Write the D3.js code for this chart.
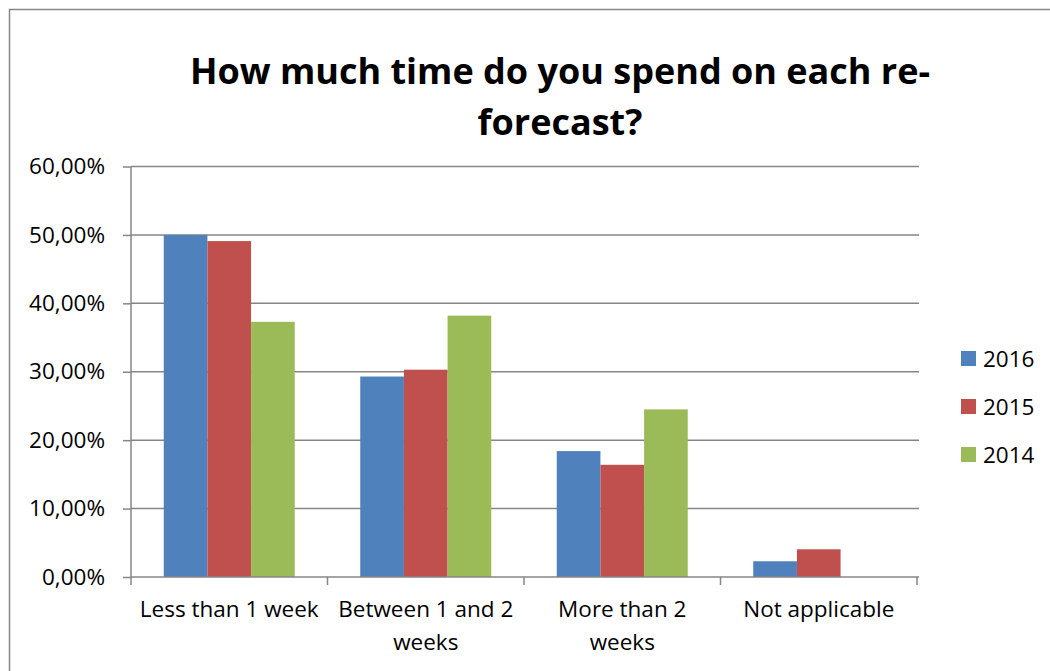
<!DOCTYPE html>
<html>
<meta charset="utf-8">
<style>
    body { margin: 0; background: #fff; }
    svg, svg text { font-family: "Open Sans", "Noto Sans", sans-serif; }
    .frame { fill: none; stroke: #868686; stroke-width: 1.5px; }
    .grid line { stroke: #868686; stroke-width: 1.5px; }
    .axis path, .axis line { stroke: #868686; stroke-width: 1.5px; }
    .axis text { font-size: 22.5px; fill: #000; }
    .title { font-size: 36px; font-weight: bold; fill: #000; }
    .legend text { font-size: 22.5px; fill: #000; }
</style>

<body>
    <script src="https://d3js.org/d3.v7.min.js"></script>
    <script>

        var width = 1050,
            height = 671;

        var categories = ["Less than 1 week", "Between 1 and 2 weeks", "More than 2 weeks", "Not applicable"];
        var years = ["2016", "2015", "2014"];
        var values2016 = [0.500, 0.293, 0.184, 0.023];
        var values2015 = [0.491, 0.303, 0.164, 0.0405];
        var values2014 = [0.373, 0.382, 0.245, null];
        var yTicks = [0, 0.1, 0.2, 0.3, 0.4, 0.5, 0.6];
        var titleLines = ["How much time do you spend on each re-", "forecast?"];
        var colors = ["#4f81bd", "#c0504d", "#9bbb59"];

        var seriesValues = [values2016, values2015, values2014];

        var margin = { left: 131, right: 133, top: 166.5, bottom: 94 };

        var x = d3.scaleBand()
            .domain(categories)
            .range([margin.left, width - margin.right])
            .paddingInner(0)
            .paddingOuter(0);

        var xInner = d3.scaleBand()
            .domain(years)
            .range([0, x.bandwidth()])
            .paddingOuter(0.75)
            .paddingInner(0);

        var y = d3.scaleLinear()
            .domain([0, 0.6])
            .range([height - margin.bottom, margin.top]);

        var locale = d3.formatLocale({ decimal: ",", thousands: ".", grouping: [3], currency: ["", "€"] });
        var pct = locale.format(".2%");

        var svg = d3.select("body").append("svg")
            .attr("width", width)
            .attr("height", height);

        svg.append("rect")
            .attr("class", "frame")
            .attr("x", 9.5)
            .attr("y", 9.5)
            .attr("width", width + 20)
            .attr("height", height + 20);

        // title
        svg.append("text")
            .attr("class", "title")
            .attr("text-anchor", "middle")
            .selectAll("tspan")
            .data(titleLines)
            .enter().append("tspan")
            .attr("x", 560)
            .attr("y", function (d, i) { return 84 + i * 51; })
            .text(function (d) { return d; });

        // gridlines
        svg.append("g")
            .attr("class", "grid")
            .selectAll("line")
            .data(yTicks.slice(1))
            .enter().append("line")
            .attr("x1", margin.left)
            .attr("x2", width - margin.right + 2)
            .attr("y1", function (d) { return y(d); })
            .attr("y2", function (d) { return y(d); });

        // bars
        var rows = categories.map(function (c, i) {
            return years.map(function (yr, j) {
                return { cat: c, year: yr, value: seriesValues[j][i], color: colors[j] };
            });
        });

        svg.append("g")
            .selectAll("g")
            .data(rows)
            .enter().append("g")
            .attr("transform", function (d) { return "translate(" + x(d[0].cat) + ",0)"; })
            .selectAll("rect")
            .data(function (d) { return d.filter(function (e) { return e.value != null; }); })
            .enter().append("rect")
            .attr("x", function (d) { return xInner(d.year); })
            .attr("width", xInner.bandwidth())
            .attr("y", function (d) { return y(d.value); })
            .attr("height", function (d) { return y(0) - y(d.value); })
            .attr("fill", function (d) { return d.color; });

        // y axis
        var yAxis = svg.append("g")
            .attr("class", "axis")
            .attr("transform", "translate(" + margin.left + ",0)")
            .call(d3.axisLeft(y).tickValues(yTicks).tickFormat(pct).tickSize(8).tickPadding(18));
        yAxis.attr("font-family", null).attr("font-size", null);
        yAxis.select(".domain").attr("d", "M0," + y(0.6) + "V" + y(0));

        // x axis
        var xAxis = svg.append("g")
            .attr("class", "axis")
            .attr("transform", "translate(0," + y(0) + ")");
        xAxis.append("line")
            .attr("x1", margin.left)
            .attr("x2", width - margin.right + 2);
        xAxis.selectAll(".tick")
            .data(categories.concat([null]))
            .enter().append("line")
            .attr("x1", function (d, i) { return margin.left + i * x.step(); })
            .attr("x2", function (d, i) { return margin.left + i * x.step(); })
            .attr("y1", 0)
            .attr("y2", 8);

        var labels = xAxis.selectAll(".label")
            .data(categories)
            .enter().append("text")
            .attr("text-anchor", "middle")
            .attr("x", function (d) { return x(d) + x.bandwidth() / 2; })
            .attr("y", 40);

        labels.each(function (d) {
            var text = d3.select(this),
                words = d.split(" "),
                line = [],
                cx = x(d) + x.bandwidth() / 2,
                tspan = text.append("tspan").attr("x", cx).attr("dy", 0);
            words.forEach(function (w) {
                line.push(w);
                tspan.text(line.join(" "));
                if (tspan.node().getComputedTextLength() > 192 && line.length > 1) {
                    line.pop();
                    tspan.text(line.join(" "));
                    line = [w];
                    tspan = text.append("tspan").attr("x", cx).attr("dy", 33).text(w);
                }
            });
        });

        // legend
        var legend = svg.append("g")
            .attr("class", "legend")
            .selectAll("g")
            .data(years)
            .enter().append("g")
            .attr("transform", function (d, i) { return "translate(961," + (351 + i * 48) + ")"; });

        legend.append("rect")
            .attr("width", 15)
            .attr("height", 15)
            .attr("fill", function (d, i) { return colors[i]; });

        legend.append("text")
            .attr("x", 22)
            .attr("y", 16)
            .text(function (d) { return d; });

    </script>

</body>
</html>
